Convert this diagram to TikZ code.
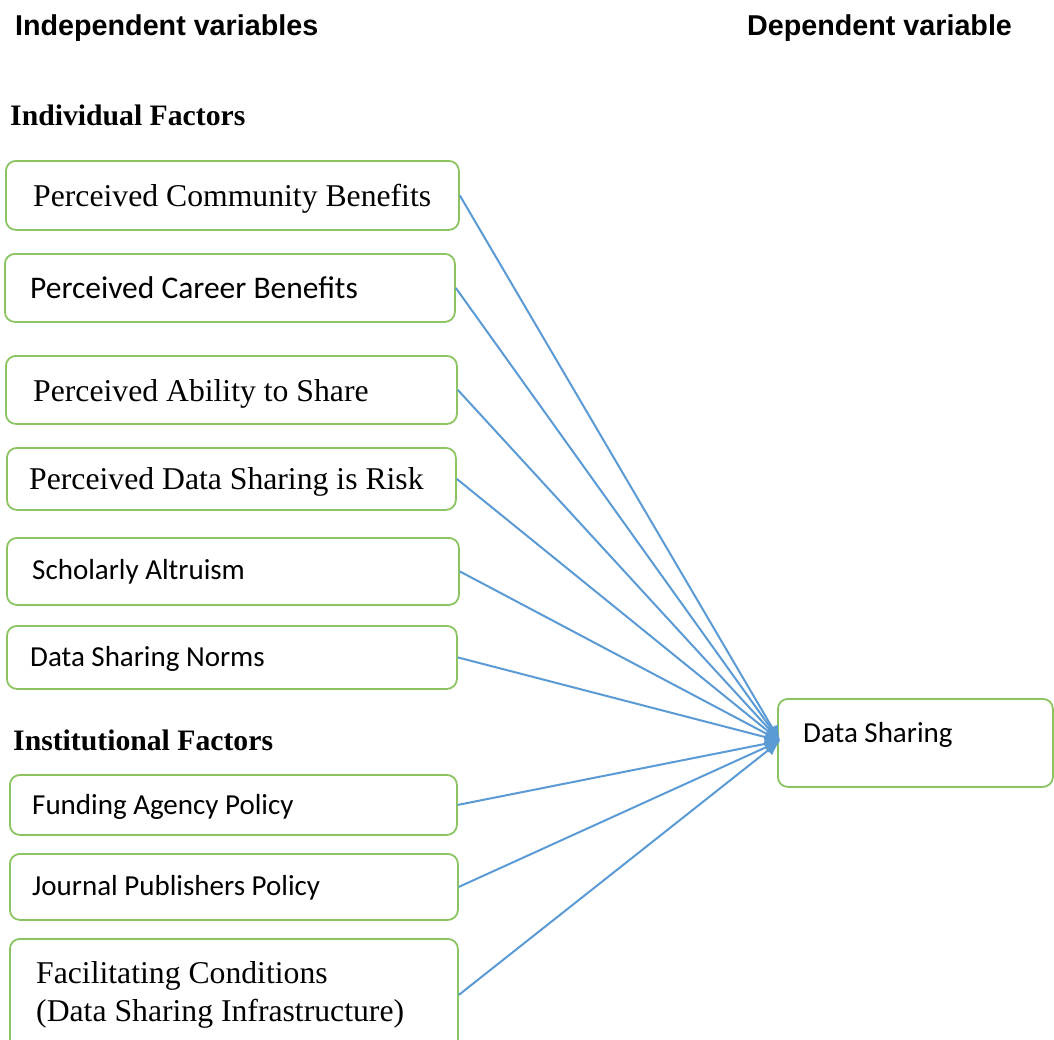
\documentclass[tikz,border=0pt]{standalone}
\usepackage{fontspec}
\setmainfont{Liberation Serif}
\newfontfamily\calfont{Carlito}
\newfontfamily\arialfont{Liberation Sans}
\usetikzlibrary{arrows.meta,calc}
\definecolor{boxgreen}{RGB}{140,196,98}
\definecolor{arrowblue}{RGB}{91,155,213}
\tikzset{
  fbox/.style={draw=boxgreen, line width=1.8pt, rounded corners=10pt, anchor=north west, inner sep=0pt},
  tnr/.style={anchor=base west, inner sep=0pt, font=\fontsize{31.7}{38}\selectfont, align=left},
  cal/.style={anchor=base west, inner sep=0pt, font=\calfont\fontsize{29}{35}\selectfont},
  head/.style={anchor=base west, inner sep=0pt, font=\arialfont\bfseries\fontsize{28.7}{34}\selectfont},
  fact/.style={anchor=base west, inner sep=0pt, font=\bfseries\fontsize{29.7}{36}\selectfont},
  link/.style={draw=arrowblue, line width=2pt, -{Latex[length=15pt,width=13pt]}}
}
\begin{document}
\begin{tikzpicture}[x=1pt,y=-1pt]
\useasboundingbox (0,0) rectangle (1054,1039);
\clip (0,0) rectangle (1054,1039);
\fill[white] (0,0) rectangle (1054,1039);

% headings
\node[head] (hind) at (15,35) {Independent variables};
\node[head] (hdep) at (747,35) {Dependent variable};
\node[fact] (fi) at (10,125) {Individual Factors};
\node[fact] (fn) at (13,750) {Institutional Factors};

% boxes
\node[fbox, minimum width=453pt, minimum height=69pt] (b1) at (5,160) {};
\node[fbox, minimum width=450pt, minimum height=68pt] (b2) at (4,253) {};
\node[fbox, minimum width=451pt, minimum height=68pt] (b3) at (5,355) {};
\node[fbox, minimum width=449pt, minimum height=62pt] (b4) at (6,447) {};
\node[fbox, minimum width=452pt, minimum height=67pt] (b5) at (6,537) {};
\node[fbox, minimum width=450pt, minimum height=63pt] (b6) at (6,625) {};
\node[fbox, minimum width=447pt, minimum height=60pt] (b7) at (9,774) {};
\node[fbox, minimum width=448pt, minimum height=66pt] (b8) at (9,853) {};
\node[fbox, minimum width=448pt, minimum height=112pt] (b9) at (9,938) {};
\node[fbox, minimum width=275pt, minimum height=88pt] (ds) at (777,698) {};

% texts
\node[tnr] (t1) at (33,206) {Perceived Community Benefits};
\node[cal, font=\calfont\fontsize{31.5}{36}\selectfont] (t2) at (30,298) {Perceived Career Benefits};
\node[tnr] (t3) at (33,401) {Perceived Ability to Share};
\node[tnr] (t4) at (29,489) {Perceived Data Sharing is Risk};
\node[cal] (t5) at (32,579) {Scholarly Altruism};
\node[cal] (t6) at (30,666) {Data Sharing Norms};
\node[cal] (t7) at (32,814) {Funding Agency Policy};
\node[cal] (t8) at (32,895) {Journal Publishers Policy};
\node[tnr] (t9a) at (36,983) {Facilitating Conditions};
\node[tnr] (t9b) at (36,1021) {(Data Sharing Infrastructure)};
\node[cal] (tds) at (803,742) {Data Sharing};

% connectors
\coordinate (tip) at ($(ds.west)+(3,-2)$);
\foreach \b in {b1,b2,b3,b4,b5,b6,b7,b8,b9}
  \draw[link] (\b.east) -- (tip);
\end{tikzpicture}
\end{document}
